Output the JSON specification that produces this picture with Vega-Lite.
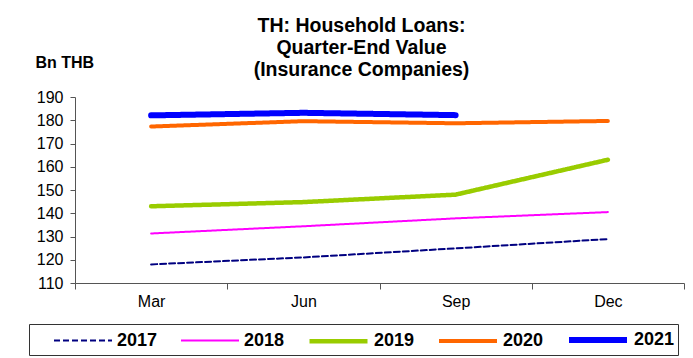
{
  "$schema": "https://vega.github.io/schema/vega-lite/v6.json",
  "width": 609,
  "height": 186,
  "autosize": "none",
  "padding": {"left": 75, "top": 97, "right": 9, "bottom": 75},
  "background": "white",
  "title": {
    "text": ["TH: Household Loans:", "Quarter-End Value", "(Insurance Companies)"],
    "font": "Liberation Sans",
    "fontSize": 19.5,
    "fontWeight": "bold",
    "color": "black",
    "lineHeight": 22,
    "anchor": "middle",
    "frame": "group",
    "dx": -18,
    "offset": -26
  },
  "data": {
    "values": [
      {"q": "Mar", "year": "2017", "v": 118.0},
      {"q": "Jun", "year": "2017", "v": 121.0},
      {"q": "Sep", "year": "2017", "v": 124.9},
      {"q": "Dec", "year": "2017", "v": 128.9},
      {"q": "Mar", "year": "2018", "v": 131.3},
      {"q": "Jun", "year": "2018", "v": 134.4},
      {"q": "Sep", "year": "2018", "v": 137.8},
      {"q": "Dec", "year": "2018", "v": 140.5},
      {"q": "Mar", "year": "2019", "v": 143.0},
      {"q": "Jun", "year": "2019", "v": 144.8},
      {"q": "Sep", "year": "2019", "v": 148.0},
      {"q": "Dec", "year": "2019", "v": 163.0},
      {"q": "Mar", "year": "2020", "v": 177.3},
      {"q": "Jun", "year": "2020", "v": 179.6},
      {"q": "Sep", "year": "2020", "v": 178.7},
      {"q": "Dec", "year": "2020", "v": 179.7},
      {"q": "Mar", "year": "2021", "v": 182.1},
      {"q": "Jun", "year": "2021", "v": 183.2},
      {"q": "Sep", "year": "2021", "v": 182.2}
    ]
  },
  "mark": {"type": "line", "strokeCap": "round", "clip": false},
  "encoding": {
    "x": {
      "field": "q",
      "type": "ordinal",
      "sort": ["Mar", "Jun", "Sep", "Dec"],
      "scale": {"type": "band", "paddingInner": 0, "paddingOuter": 0},
      "bandPosition": 0.5,
      "axis": {
        "title": null,
        "tickBand": "extent",
        "labelAngle": 0,
        "labelFont": "Liberation Sans",
        "labelFontSize": 16,
        "labelColor": "black",
        "labelPadding": 4,
        "tickSize": 6,
        "tickColor": "#555555",
        "domainColor": "#555555",
        "grid": false
      }
    },
    "y": {
      "field": "v",
      "type": "quantitative",
      "scale": {"domain": [110, 190], "nice": false, "zero": false},
      "axis": {
        "title": "Bn THB",
        "titleAngle": 0,
        "titleAlign": "left",
        "titleBaseline": "alphabetic",
        "titleX": -40,
        "titleY": -30,
        "titleFont": "Liberation Sans",
        "titleFontSize": 16,
        "titleFontWeight": "bold",
        "titleColor": "black",
        "values": [110, 120, 130, 140, 150, 160, 170, 180, 190],
        "labelFont": "Liberation Sans",
        "labelFontSize": 16,
        "labelColor": "black",
        "labelPadding": 7,
        "tickSize": 5,
        "tickColor": "#555555",
        "domainColor": "#555555",
        "grid": false
      }
    },
    "color": {
      "field": "year",
      "type": "ordinal",
      "scale": {
        "type": "ordinal",
        "domain": ["2017", "2018", "2019", "2020", "2021"],
        "range": ["#000080", "#FF00FF", "#99CC00", "#FF6600", "#0000FF"]
      },
      "legend": {
        "title": null,
        "orient": "none",
        "direction": "horizontal",
        "legendX": -46,
        "legendY": 227,
        "padding": 3,
        "strokeColor": "#333333",
        "symbolType": "M-2.9,0H2.9",
        "symbolSize": 400,
        "symbolOffset": 40,
        "labelFont": "Liberation Sans",
        "labelFontSize": 18,
        "labelFontWeight": "bold",
        "labelColor": "black",
        "labelOffset": 23,
        "labelLimit": 400,
        "columnPadding": 1,
        "labelExpr": "datum.label == '2021' ? datum.label + '\u00a0\u00a0' : datum.label"
      }
    },
    "strokeDash": {
      "field": "year",
      "type": "ordinal",
      "scale": {
        "type": "ordinal",
        "domain": ["2017", "2018", "2019", "2020", "2021"],
        "range": [[6, 3], [1, 0], [1, 0], [1, 0], [1, 0]]
      }
    },
    "strokeWidth": {
      "field": "year",
      "type": "ordinal",
      "scale": {
        "type": "ordinal",
        "domain": ["2017", "2018", "2019", "2020", "2021"],
        "range": [2, 2, 4.5, 4, 6]
      }
    }
  },
  "config": {
    "view": {"stroke": null}
  }
}
